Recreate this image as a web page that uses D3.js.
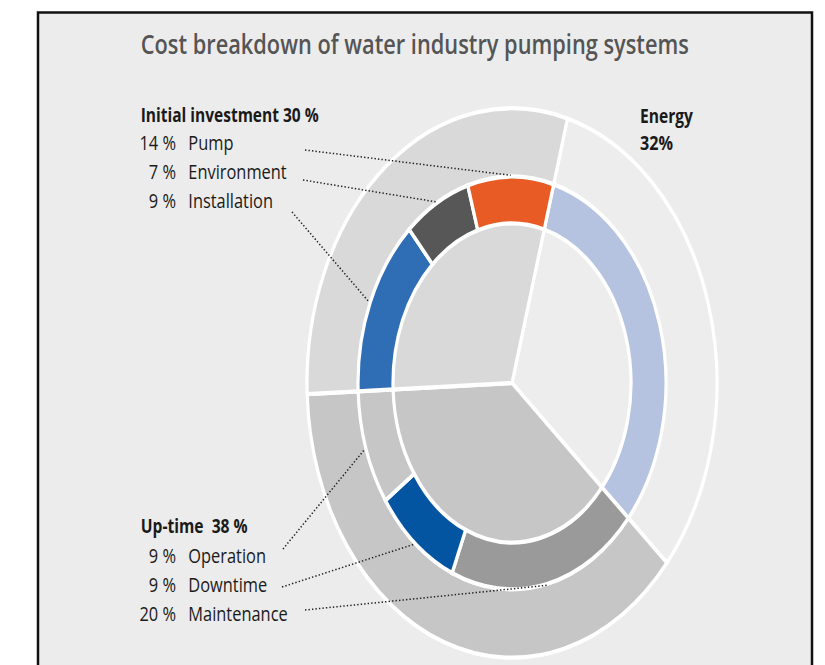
<!DOCTYPE html>
<html><head><meta charset="utf-8">
<script src="https://cdn.jsdelivr.net/npm/d3@7"></script>
<style>html,body{margin:0;padding:0;background:#fff;} svg{display:block;}</style>
</head><body>
<svg id="chart" width="825" height="665"></svg>
<script>
// ---- data ----
const title = "Cost breakdown of water industry pumping systems";
const groupNames = ["Energy", "Up-time", "Initial investment"];
const groupShares = [32, 38, 30];
// inner ring, clockwise from the Energy start
const ringNames = ["Energy", "Maintenance", "Downtime", "Operation", "Installation", "Environment", "Pump"];
const ringShares = [32, 20, 9, 9, 14, 7, 9];
const initialItems = ["Pump", "Environment", "Installation"];
const initialPcts = [14, 7, 9];
const uptimeItems = ["Operation", "Downtime", "Maintenance"];
const uptimePcts = [9, 9, 20];

// ---- styles ----
const groupColors = ["#ededed", "#c6c6c6", "#d9d9d9"];
const ringColors = ["#b5c3e1", "#9a9a9a", "#0455a1", "#c6c6c6", "#2f6eb5", "#575757", "#e85b24"];

// ---- layout ----
const cx = 512, cy = 383, S = 1.34;
const R_OUT = 205, R_MID = 154, R_IN = 119;
const FONT = "'Open Sans', 'Noto Sans', sans-serif";

const svg = d3.select("#chart");
svg.append("rect").attr("x", 38).attr("y", 12.5).attr("width", 774).attr("height", 700)
  .attr("fill", "#ececec").attr("stroke", "#111").attr("stroke-width", 2.5);

const a0 = 15.7 * Math.PI / 180;
const pie = d3.pie().sort(null).value(d => d).startAngle(a0).endAngle(a0 + 2 * Math.PI);

const gp = svg.append("g").attr("transform", `translate(${cx},${cy}) scale(1,${S})`);
const outerArc = d3.arc().innerRadius(0).outerRadius(R_OUT);
gp.selectAll(null).data(pie(groupShares)).join("path")
  .attr("d", outerArc).attr("fill", (d, i) => groupColors[i])
  .attr("stroke", "#fff").attr("stroke-width", 3.2).attr("stroke-linejoin", "round");

const ringArc = d3.arc().innerRadius(R_IN).outerRadius(R_MID);
const ringData = pie(ringShares);
gp.selectAll(null).data(ringData).join("path")
  .attr("d", ringArc).attr("fill", (d, i) => ringColors[i])
  .attr("stroke", "#fff").attr("stroke-width", 3.2).attr("stroke-linejoin", "miter");

// ---- text helper ----
function label(x, y, str, o) {
  const g = svg.append("g");
  const t = g.append("text").text(str)
    .attr("font-family", FONT).attr("font-size", o.size)
    .attr("font-weight", o.weight || 400).attr("fill", o.color || "#1a1a1a")
    .attr("text-anchor", o.anchor || "start");
  const w = t.node().getComputedTextLength();
  const kx = o.width ? o.width / w : o.kx;
  g.attr("transform", `translate(${x},${y}) scale(${kx},${S})`);
  return kx;
}

label(140.7, 53.5, title, {size: 19.8, weight: 600, color: "#555", width: 548});
label(140.7, 122, "Initial investment 30 %", {size: 14.6, weight: 700, width: 178});
label(640, 122.5, groupNames[0], {size: 14.6, weight: 700, width: 53});
label(640, 150, "32%", {size: 14.6, weight: 700, width: 33});
label(140.7, 533, "Up-time\u00a0 38 %", {size: 14.6, weight: 700, width: 107});

// common item scale from "Environment"
const tmp = svg.append("text").text("Environment").attr("font-family", FONT)
  .attr("font-size", 14.6).attr("font-weight", 500);
const kItem = 98.4 / tmp.node().getComputedTextLength();
tmp.remove();

const pctX = 176, nameX = 188.3;
const initialY = [150, 179, 208];
const uptimeY = [562.5, 591.5, 620.5];
initialItems.forEach((n, i) => {
  label(pctX, initialY[i], initialPcts[i] + " %", {size: 14.6, weight: 500, anchor: "end", kx: kItem});
  label(nameX, initialY[i], n, {size: 14.6, weight: 500, kx: kItem});
});
uptimeItems.forEach((n, i) => {
  label(pctX, uptimeY[i], uptimePcts[i] + " %", {size: 14.6, weight: 500, anchor: "end", kx: kItem});
  label(nameX, uptimeY[i], n, {size: 14.6, weight: 500, kx: kItem});
});

// ---- leader lines ----
const leaderStarts = {
  "Pump": [305, 150], "Environment": [303, 180], "Installation": [292, 212],
  "Operation": [283, 549], "Downtime": [282, 587], "Maintenance": [305, 610]
};
const leaders = initialItems.concat(uptimeItems).map(n => {
  const d = ringData[ringNames.indexOf(n)];
  const m = (d.startAngle + d.endAngle) / 2;
  const r = R_MID + 1;
  return {start: leaderStarts[n], end: [cx + r * Math.sin(m), cy - r * Math.cos(m) * S]};
});
svg.selectAll(null).data(leaders).join("line")
  .attr("x1", d => d.start[0]).attr("y1", d => d.start[1])
  .attr("x2", d => d.end[0]).attr("y2", d => d.end[1])
  .attr("stroke", "#222").attr("stroke-width", 1.5)
  .attr("stroke-dasharray", "1.4,2.1");
</script>
</body></html>
